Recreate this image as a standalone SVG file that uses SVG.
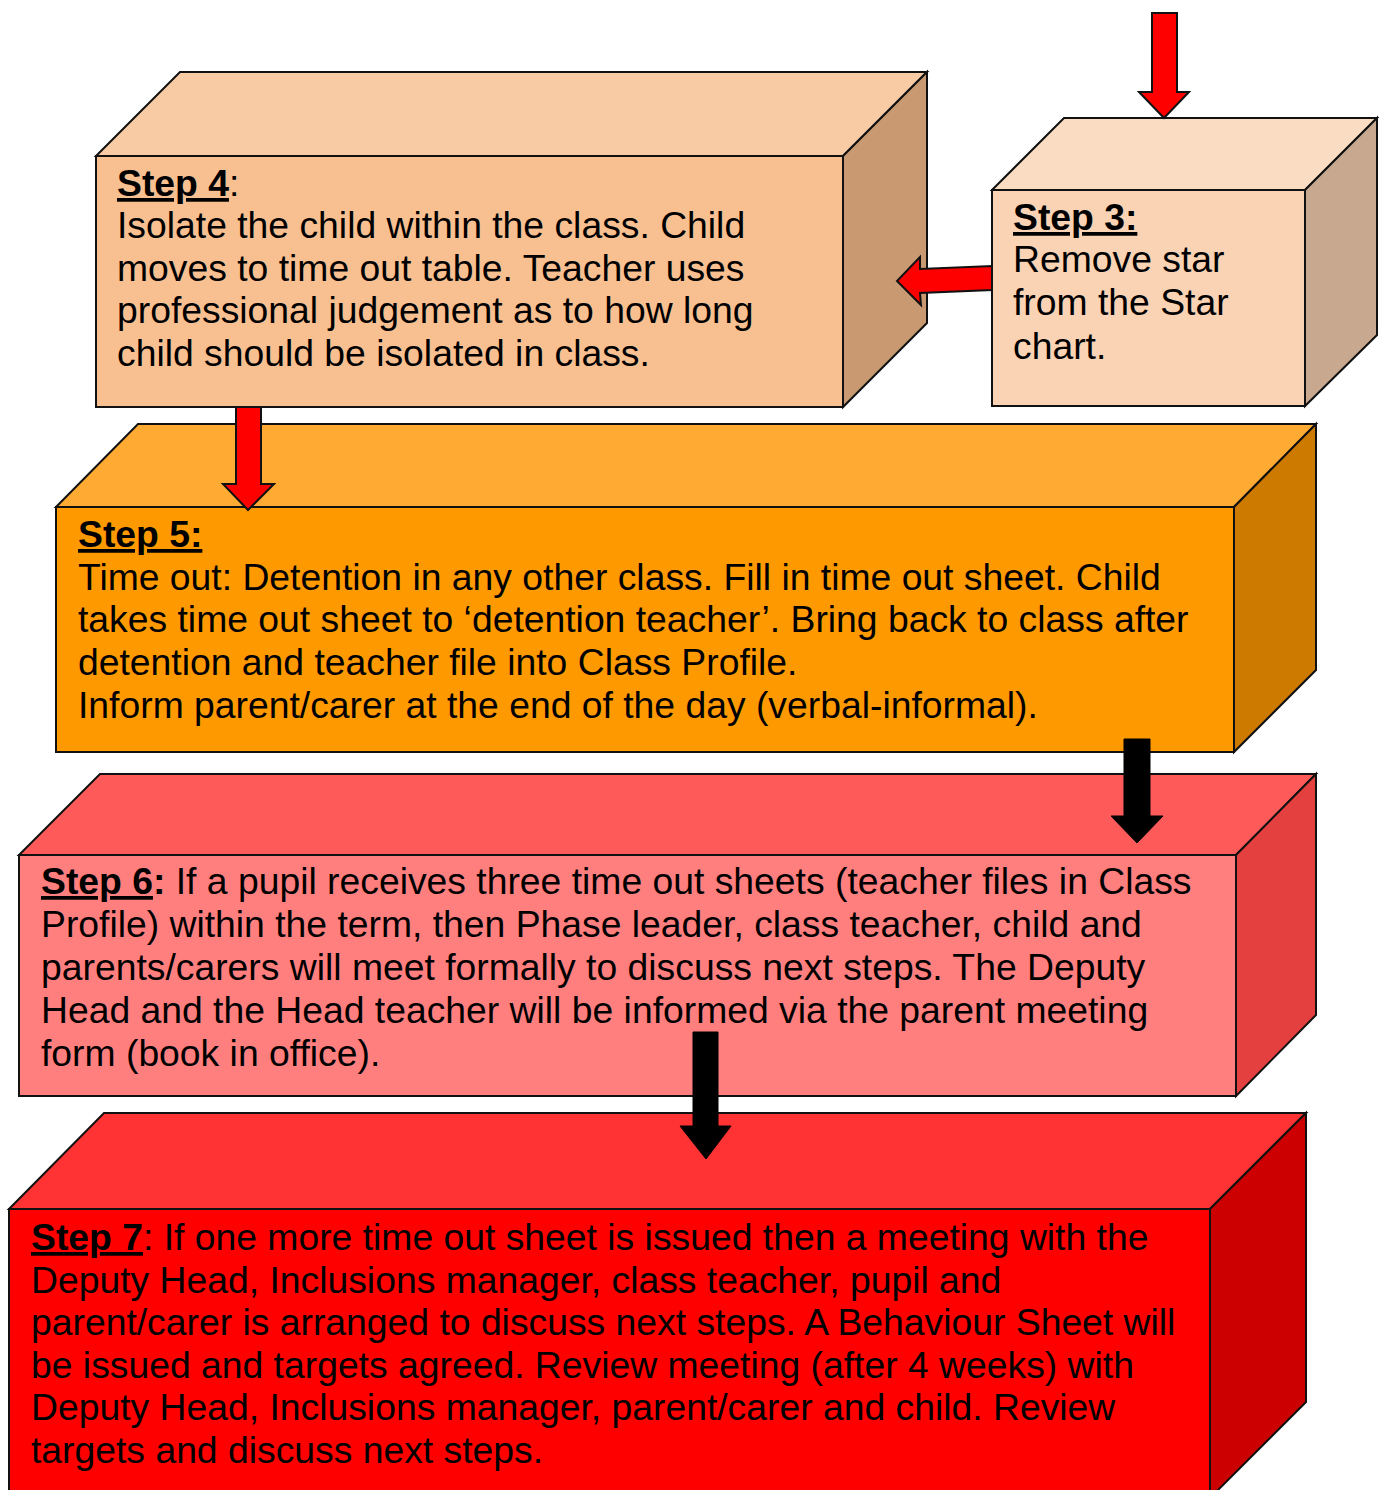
<svg xmlns="http://www.w3.org/2000/svg" width="1383" height="1490" viewBox="0 0 1383 1490">
<style>
  .edge { stroke: #111; stroke-width: 2; stroke-linejoin: miter; }
  .txt { font-family: "Liberation Sans", Arial, sans-serif; font-size: 37.3px; fill: #000; }
  .b { font-weight: bold; }
  .u { text-decoration: underline; }
  .redarrow { fill: #FF0000; stroke: #111; stroke-width: 2; }
  .blkarrow { fill: #000; stroke: #000; stroke-width: 1; }
</style>
<rect width="1383" height="1490" fill="#FFFFFF"/>

<g id="step3">
  <polygon class="edge" fill="#FADCC2" points="992,190 1064,118 1377,118 1305,190"/>
  <polygon class="edge" fill="#C9A890" points="1305,190 1377,118 1377,335 1305,406"/>
  <rect class="edge" fill="#FAD3B4" x="992" y="190" width="313" height="216"/>
  <text class="txt" x="1013" y="230"><tspan class="b u">Step 3:</tspan></text>
  <text class="txt" x="1013" y="272">Remove star</text>
  <text class="txt" x="1013" y="315">from the Star</text>
  <text class="txt" x="1013" y="359">chart.</text>
</g>

<g id="step4">
  <polygon class="edge" fill="#F9CBA5" points="96,156 180,72 927,72 843,156"/>
  <polygon class="edge" fill="#C99A72" points="843,156 927,72 927,323 843,407"/>
  <rect class="edge" fill="#F8BF90" x="96" y="156" width="747" height="251"/>
  <text class="txt" x="117" y="196"><tspan class="b u">Step 4</tspan>:</text>
  <text class="txt" x="117" y="238">Isolate the child within the class. Child</text>
  <text class="txt" x="117" y="281">moves to time out table. Teacher uses</text>
  <text class="txt" x="117" y="323">professional judgement as to how long</text>
  <text class="txt" x="117" y="366">child should be isolated in class.</text>
</g>

<g id="step5">
  <polygon class="edge" fill="#FFAA33" points="56,507 138,424 1316,424 1234,507"/>
  <polygon class="edge" fill="#CC7A00" points="1234,507 1316,424 1316,670 1234,752"/>
  <rect class="edge" fill="#FF9900" x="56" y="507" width="1178" height="245"/>
  <text class="txt" x="78" y="547"><tspan class="b u">Step 5:</tspan></text>
  <text class="txt" x="78" y="590">Time out: Detention in any other class. Fill in time out sheet. Child</text>
  <text class="txt" x="78" y="632">takes time out sheet to ‘detention teacher’. Bring back to class after</text>
  <text class="txt" x="78" y="675">detention and teacher file into Class Profile.</text>
  <text class="txt" x="78" y="718">Inform parent/carer at the end of the day (verbal-informal).</text>
</g>

<g id="step6">
  <polygon class="edge" fill="#FF5A5A" points="19,855 100,774 1316,774 1236,855"/>
  <polygon class="edge" fill="#E54040" points="1236,855 1316,774 1316,1015 1236,1096"/>
  <rect class="edge" fill="#FF7F7F" x="19" y="855" width="1217" height="241"/>
  <text class="txt" x="41" y="894"><tspan class="b u">Step 6</tspan><tspan class="b">:</tspan> If a pupil receives three time out sheets (teacher files in Class</text>
  <text class="txt" x="41" y="937">Profile) within the term, then Phase leader, class teacher, child and</text>
  <text class="txt" x="41" y="980">parents/carers will meet formally to discuss next steps. The Deputy</text>
  <text class="txt" x="41" y="1023">Head and the Head teacher will be informed via the parent meeting</text>
  <text class="txt" x="41" y="1066">form (book in office).</text>
</g>

<g id="step7">
  <polygon class="edge" fill="#FF3333" points="9,1209 104,1113 1306,1113 1210,1209"/>
  <polygon class="edge" fill="#CC0000" points="1210,1209 1306,1113 1306,1402 1210,1498"/>
  <rect class="edge" fill="#FF0000" x="9" y="1209" width="1201" height="300"/>
  <text class="txt" x="31" y="1250"><tspan class="b u">Step 7</tspan>: If one more time out sheet is issued then a meeting with the</text>
  <text class="txt" x="31" y="1293">Deputy Head, Inclusions manager, class teacher, pupil and</text>
  <text class="txt" x="31" y="1335">parent/carer is arranged to discuss next steps. A Behaviour Sheet will</text>
  <text class="txt" x="31" y="1378">be issued and targets agreed. Review meeting (after 4 weeks) with</text>
  <text class="txt" x="31" y="1420">Deputy Head, Inclusions manager, parent/carer and child. Review</text>
  <text class="txt" x="31" y="1463">targets and discuss next steps.</text>
</g>

<g id="connectors">
  <polygon class="redarrow" points="1152,13 1177,13 1177,92 1189,92 1164,118 1139,92 1152,92"/>
  <polygon class="redarrow" points="992,266 992,290 920,293 921,305 897,281 920,257 920,269"/>
  <polygon class="redarrow" points="236,407 261,407 261,484 274,484 248,510 223,484 236,484"/>
  <polygon class="blkarrow" points="1124,739 1150,739 1150,816 1163,816 1137,843 1111,816 1124,816"/>
  <polygon class="blkarrow" points="693,1032 718,1032 718,1126 731,1126 706,1159 680,1126 693,1126"/>
</g>
</svg>
